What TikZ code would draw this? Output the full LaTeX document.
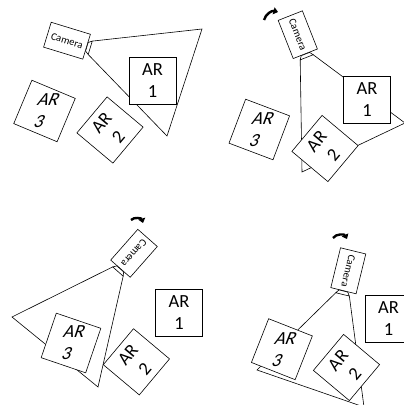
\documentclass[tikz,border=0pt]{standalone}
\usepackage{fontspec}
\setmainfont{Carlito}
\usetikzlibrary{arrows.meta}

\begin{document}
\begin{tikzpicture}[x=1pt, y=1pt, line width=0.6pt,
        camera/.style={draw, fill=white, minimum width=41pt, minimum height=26pt, inner sep=0pt, font=\fontsize{10.5}{12}\selectfont},
        lens/.style={draw, fill=white},
        arbox/.style={draw, fill=white, minimum size=47pt, inner sep=0pt, align=center, font=\fontsize{18.5}{22}\selectfont},
        artext/.style={inner sep=0pt, align=center, font=\fontsize{18.5}{22}\selectfont},
        turn/.style={line width=2.4pt, -{Triangle[length=4.5pt, width=7pt]}}]
    \useasboundingbox (0,0) rectangle (404,405);

    \node [camera, rotate=-17] (camA) at (67,364.3) {Camera};
    \begin{scope}[shift={(camA.east)}, rotate=-17]
        \draw [lens] (0,-4.5) -- (0,4.5) -- (3.5,7) -- (3.5,-7) -- cycle;
        \coordinate (lensAt) at (3.5,7);
        \coordinate (lensAb) at (3.5,-7);
    \end{scope}
    \coordinate (fovA1) at (202,376);
    \coordinate (fovA2) at (167,269);
    \draw (lensAt) -- (fovA1) -- (fovA2) -- (lensAb);
    \node [arbox] (arA1) at (152.5,324.5) {AR\\1};
    \node [arbox, rotate=50] (arA2) at (110,275) {AR\\2};
    \node [arbox, rotate=-22.7] (arA3) at (44.5,294) {};
    \node [artext, xslant=0.42] (arA3txt) at (arA3) {AR\\3};

    \node [camera, rotate=-68.5] (camB) at (297.8,370.3) {Camera};
    \begin{scope}[shift={(camB.east)}, rotate=-68.5]
        \draw [lens] (0,-4.5) -- (0,4.5) -- (3.5,7) -- (3.5,-7) -- cycle;
        \coordinate (lensBt) at (3.5,7);
        \coordinate (lensBb) at (3.5,-7);
    \end{scope}
    \coordinate (fovB1) at (405,282);
    \coordinate (fovB2) at (302,233);
    \draw (lensBt) -- (fovB1) -- (fovB2) -- (lensBb);
    \node [arbox] (arB1) at (367,305.5) {AR\\1};
    \node [arbox, rotate=50] (arB2) at (325,256.5) {AR\\2};
    \node [arbox, rotate=-20.7] (arB3) at (259.3,275.5) {};
    \node [artext, xslant=0.38] (arB3txt) at (arB3) {AR\\3};
    \coordinate (turnB0) at (264,385);
    \coordinate (turnB1) at (278,393);
    \draw [turn] (turnB0) to [bend left=45] (turnB1);

    \node [camera, rotate=-131.4] (camC) at (134,151.7) {Camera};
    \begin{scope}[shift={(camC.east)}, rotate=-131.4]
        \draw [lens] (0,-4.5) -- (0,4.5) -- (3.5,7) -- (3.5,-7) -- cycle;
        \coordinate (lensCt) at (3.5,7);
        \coordinate (lensCb) at (3.5,-7);
    \end{scope}
    \coordinate (fovC1) at (98,18);
    \coordinate (fovC2) at (12,88);
    \draw (lensCt) -- (fovC1) -- (fovC2) -- (lensCb);
    \node [arbox] (arC1) at (179,92.5) {AR\\1};
    \node [arbox, rotate=50] (arC2) at (136.4,43.2) {AR\\2};
    \node [arbox, rotate=-18.8] (arC3) at (71,62) {};
    \node [artext, xslant=0.34] (arC3txt) at (arC3) {AR\\3};
    \coordinate (turnC0) at (131,185);
    \coordinate (turnC1) at (143,182);
    \draw [turn] (turnC0) to [bend left=60] (turnC1);

    \node [camera, rotate=-103.7] (camD) at (348.3,134.2) {Camera};
    \begin{scope}[shift={(camD.east)}, rotate=-103.7]
        \draw [lens] (0,-4.5) -- (0,4.5) -- (3.5,7) -- (3.5,-7) -- cycle;
        \coordinate (lensDt) at (3.5,7);
        \coordinate (lensDb) at (3.5,-7);
    \end{scope}
    \coordinate (fovD1) at (364,-2);
    \coordinate (fovD2) at (257,35);
    \draw (lensDt) -- (fovD1) -- (fovD2) -- (lensDb);
    \node [arbox] (arD1) at (388.5,86.5) {AR\\1};
    \node [arbox, rotate=50] (arD2) at (346.5,37.5) {AR\\2};
    \node [arbox, rotate=-21.5] (arD3) at (281.9,55.8) {};
    \node [artext, xslant=0.39] (arD3txt) at (arD3) {AR\\3};
    \coordinate (turnD0) at (333,167);
    \coordinate (turnD1) at (347,166);
    \draw [turn] (turnD0) to [bend left=60] (turnD1);
\end{tikzpicture}
\end{document}
